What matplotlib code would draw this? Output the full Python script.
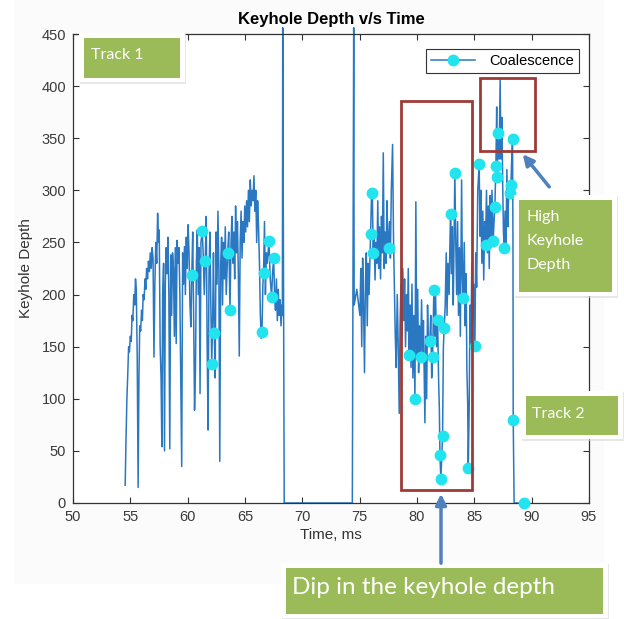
import matplotlib.pyplot as plt
from matplotlib.lines import Line2D
from matplotlib.patches import Rectangle, FancyArrowPatch

# keyhole depth, track 1 (ms, depth)
track1_t = [54.55, 54.62, 54.70, 54.78, 54.85, 54.92, 55.00, 55.08, 55.15, 55.22, 55.30, 55.38,
            55.45, 55.52, 55.60, 55.68, 55.75, 55.82, 55.90, 55.98, 56.05, 56.12, 56.20, 56.28,
            56.35, 56.42, 56.50, 56.58, 56.66, 56.74, 56.82, 56.90, 56.98, 57.06, 57.14, 57.22,
            57.30, 57.38, 57.45, 57.52, 57.60, 57.68, 57.75, 57.82, 57.90, 57.98, 58.05, 58.12,
            58.20, 58.28, 58.36, 58.44, 58.52, 58.60, 58.68, 58.76, 58.84, 58.92, 59.00, 59.08,
            59.16, 59.24, 59.32, 59.40, 59.48, 59.56, 59.64, 59.72, 59.80, 59.88, 59.96, 60.04,
            60.12, 60.20, 60.28, 60.36, 60.44, 60.52, 60.60, 60.68, 60.76, 60.84, 60.92, 61.00,
            61.08, 61.16, 61.27, 61.35, 61.45, 61.53, 61.62, 61.70, 61.78, 61.86, 61.94, 62.02,
            62.10, 62.18, 62.25, 62.32, 62.40, 62.48, 62.56, 62.64, 62.72, 62.80, 62.88, 62.96,
            63.04, 63.12, 63.20, 63.28, 63.36, 63.49, 63.58, 63.69, 63.78, 63.86, 63.94, 64.02,
            64.10, 64.18, 64.26, 64.34, 64.42, 64.50, 64.58, 64.66, 64.74, 64.82, 64.90, 64.98,
            65.06, 65.14, 65.22, 65.30, 65.38, 65.46, 65.54, 65.62, 65.70, 65.78, 65.86, 65.94,
            66.02, 66.10, 66.18, 66.26, 66.34, 66.42, 66.48, 66.56, 66.62, 66.70, 66.78, 66.86,
            66.94, 67.09, 67.20, 67.32, 67.40, 67.50, 67.58, 67.66, 67.74, 67.82, 67.90, 67.98,
            68.06, 68.14, 68.22, 68.26]
track1_d = [17, 60, 100, 125, 150, 145, 160, 155, 180, 175, 200, 190,
            215, 205, 140, 15, 120, 170, 165, 185, 175, 200, 195, 215,
            205, 225, 215, 232, 222, 240, 225, 245, 235, 140, 210, 250,
            230, 278, 250, 262, 150, 120, 54, 200, 230, 50, 210, 245,
            220, 255, 200, 52, 238, 180, 240, 225, 160, 245, 153, 252,
            230, 245, 200, 115, 35, 240, 210, 246, 200, 255, 225, 267,
            240, 190, 169, 219, 260, 180, 89, 128, 230, 262, 200, 245,
            105, 250, 261, 240, 200, 232, 275, 150, 70, 220, 260, 190,
            133, 180, 240, 163, 120, 260, 210, 280, 225, 40, 230, 255,
            190, 250, 215, 265, 200, 240, 260, 185, 250, 275, 230, 260,
            215, 285, 240, 270, 220, 141, 250, 280, 235, 270, 250, 285,
            260, 290, 265, 300, 270, 310, 285, 300, 290, 314, 280, 300,
            250, 290, 265, 230, 180, 158, 164, 210, 221, 270, 200, 240,
            230, 251, 215, 198, 220, 235, 200, 185, 215, 175, 205, 180,
            195, 170, 190, 180]

# jump out of range, zero baseline between tracks, jump back
gap_t = [68.29, 68.42, 74.36, 74.48]
gap_d = [456, 0, 0, 456]

# keyhole depth, track 2
track2_t = [74.52, 74.75, 75.02, 75.10, 75.18, 75.26, 75.34, 75.42, 75.50, 75.58, 75.66, 75.74,
            75.82, 75.95, 76.04, 76.10, 76.18, 76.26, 76.34, 76.42, 76.50, 76.58, 76.66, 76.74,
            76.82, 76.90, 76.98, 77.06, 77.14, 77.22, 77.30, 77.38, 77.45, 77.52, 77.60, 77.68,
            77.76, 77.87, 77.95, 78.03, 78.10, 78.18, 78.28, 78.36, 78.45, 78.52, 78.60, 78.68,
            78.76, 78.84, 78.92, 79.00, 79.08, 79.16, 79.24, 79.32, 79.40, 79.48, 79.56, 79.64,
            79.72, 79.82, 79.90, 79.98, 80.06, 80.14, 80.22, 80.31, 80.40, 80.48, 80.56, 80.64,
            80.69, 80.76, 80.84, 80.92, 81.00, 81.12, 81.20, 81.28, 81.36, 81.47, 81.55, 81.62,
            81.70, 81.80, 81.88, 81.95, 82.00, 82.08, 82.23, 82.30, 82.37, 82.46, 82.55, 82.62,
            82.70, 82.80, 82.88, 82.93, 83.00, 83.08, 83.16, 83.22, 83.30, 83.38, 83.46, 83.54,
            83.62, 83.70, 83.78, 83.89, 83.96, 84.03, 84.12, 84.20, 84.28, 84.35, 84.42, 84.47,
            84.55, 84.62, 84.70, 84.78, 84.86, 84.95, 85.05, 85.12, 85.20, 85.30, 85.42, 85.50,
            85.58, 85.66, 85.74, 85.82, 85.90, 85.98, 86.06, 86.14, 86.22, 86.30, 86.38, 86.46,
            86.54, 86.64, 86.72, 86.79, 86.88, 86.95, 86.99, 87.08, 87.16, 87.25, 87.32, 87.40,
            87.48, 87.54, 87.60, 87.68, 87.76, 87.84, 87.92, 88.00, 88.10, 88.19, 88.26, 88.33,
            88.37, 88.39, 88.47, 89.35]
track2_d = [190, 205, 180, 225, 150, 235, 190, 125, 210, 240, 170, 230,
            200, 258, 297, 300, 240, 260, 214, 250, 230, 290, 225, 265,
            215, 275, 240, 336, 225, 260, 230, 290, 250, 245, 270, 235,
            300, 344, 255, 205, 163, 130, 200, 150, 86, 170, 210, 160,
            225, 175, 215, 150, 200, 165, 225, 142, 190, 130, 210, 120,
            180, 100, 289, 140, 205, 125, 170, 140, 195, 135, 175, 110,
            77, 160, 100, 190, 150, 155, 180, 120, 140, 204, 160, 200,
            150, 176, 120, 90, 46, 23, 64, 150, 168, 190, 240, 180,
            230, 200, 255, 277, 220, 265, 190, 240, 317, 250, 200, 270,
            180, 245, 160, 310, 215, 197, 250, 170, 220, 128, 96, 34,
            90, 190, 150, 230, 175, 210, 151, 240, 207, 300, 325, 256,
            300, 230, 280, 214, 270, 248, 300, 240, 285, 225, 295, 250,
            300, 251, 270, 284, 323, 380, 313, 355, 330, 406, 330, 370,
            300, 260, 245, 280, 250, 320, 265, 300, 297, 305, 330, 349,
            250, 80, 0, 0]

# coalescence events
coal_t = [60.36, 61.27, 61.53, 62.10, 62.32, 63.49, 63.69, 66.48, 66.62, 67.09, 67.32, 67.50,
          75.95, 76.04, 76.18, 77.52, 79.32, 79.82, 80.31, 81.12, 81.36, 81.47, 81.80, 82.00,
          82.08, 82.23, 82.37, 82.93, 83.30, 84.03, 84.47, 85.05, 85.42, 85.98, 86.64, 86.79,
          86.88, 86.99, 87.08, 87.60, 88.10, 88.19, 88.33, 88.39, 89.35]
coal_d = [219, 261, 232, 133, 163, 240, 185, 164, 221, 251, 198, 235,
          258, 297, 240, 245, 142, 100, 140, 155, 140, 204, 176, 46,
          23, 64, 168, 277, 317, 197, 34, 151, 325, 248, 251, 284,
          323, 313, 355, 245, 297, 305, 349, 80, 0]

x_ticks = [50, 55, 60, 65, 70, 75, 80, 85, 90, 95]
y_ticks = [0, 50, 100, 150, 200, 250, 300, 350, 400, 450]

W, H = 624, 619


def fx(px):
    return px / W


def fy(py):
    return 1 - py / H


line_col = '#2a78c2'
dot_col = '#22e4ee'
green = '#9bbb59'
dark_red = '#9e3b36'
arrow_col = '#4f81bd'

fig = plt.figure(figsize=(6.24, 6.19), dpi=100, facecolor='white')
fig.patches.append(Rectangle((fx(14), fy(584)), fx(590), 584 / H, transform=fig.transFigure,
                             facecolor='#fbfbfb', edgecolor='none', zorder=-5))
ax = fig.add_axes([fx(73), fy(503), (589 - 73) / W, (503 - 34) / H])

all_t = track1_t + gap_t + track2_t
all_d = track1_d + gap_d + track2_d
ax.plot(all_t, all_d, color=line_col, lw=1.1, clip_on=False, zorder=2)
ax.plot(coal_t, coal_d, 'o', color=dot_col, ms=7.5, mec=dot_col, zorder=3, clip_on=False)

ax.set_xlim(50, 95)
ax.set_ylim(0, 450)
ax.set_xticks(x_ticks)
ax.set_yticks(y_ticks)
ax.tick_params(direction='in', length=4, width=0.8, top=True, right=True,
               labelsize=10.5, labelcolor='#3a3a3a', color='#333333', pad=5)
for s in ax.spines.values():
    s.set_color('#333333')
    s.set_linewidth(0.9)
for lab in ax.get_xticklabels() + ax.get_yticklabels():
    lab.set_family('Liberation Sans')

ax.set_xlabel('Time, ms', fontsize=11, family='Liberation Sans', color='#333333', labelpad=3)
ax.set_ylabel('Keyhole Depth', fontsize=11, family='Liberation Sans', color='#333333', labelpad=6)
ax.set_title('Keyhole Depth v/s Time', fontsize=12, fontweight='bold',
             family='Liberation Sans', pad=7)

handle = Line2D([], [], color=line_col, lw=1.1, marker='o', ms=7.5, mfc=dot_col, mec=dot_col)
leg = ax.legend([handle], ['Coalescence'], loc='upper right',
                bbox_to_anchor=(fx(579), fy(49)), bbox_transform=fig.transFigure,
                borderaxespad=0, fancybox=False, framealpha=1, edgecolor='#333333',
                prop={'family': 'Liberation Sans', 'size': 10.5}, handlelength=3.0,
                handletextpad=1.0, borderpad=0.35)
leg.get_frame().set_linewidth(0.8)

# red highlight boxes
for (x0, y0, x1, y1) in [(401, 101, 472, 490), (480, 78, 535, 151)]:
    fig.patches.append(Rectangle((fx(x0), fy(y1)), fx(x1 - x0), (y1 - y0) / H,
                                 transform=fig.transFigure, facecolor='none',
                                 edgecolor=dark_red, lw=2, zorder=5))


def green_box(x0, y0, x1, y1):
    fig.patches.append(Rectangle((fx(x0 - 4), fy(y1 + 6)), fx(x1 - x0 + 10), (y1 - y0 + 10) / H,
                                 transform=fig.transFigure, facecolor='#d8d8d8',
                                 edgecolor='none', alpha=0.6, zorder=5))
    fig.patches.append(Rectangle((fx(x0 - 5), fy(y1 + 4)), fx(x1 - x0 + 10), (y1 - y0 + 9) / H,
                                 transform=fig.transFigure, facecolor='white',
                                 edgecolor='none', zorder=5))
    fig.patches.append(Rectangle((fx(x0), fy(y1)), fx(x1 - x0), (y1 - y0) / H,
                                 transform=fig.transFigure, facecolor=green,
                                 edgecolor='none', zorder=6))


green_box(84, 38, 180, 78)
fig.text(fx(91), fy(55), 'Track 1', color='white', fontsize=11.5, family='Lato',
         va='center', ha='left', zorder=7)

green_box(519, 200, 612, 292)
fig.text(fx(526), fy(217), 'High', color='white', fontsize=11.5, family='Lato',
         va='center', ha='left', zorder=7)
fig.text(fx(526), fy(241), 'Keyhole', color='white', fontsize=11.5, family='Lato',
         va='center', ha='left', zorder=7)
fig.text(fx(526), fy(265), 'Depth', color='white', fontsize=11.5, family='Lato',
         va='center', ha='left', zorder=7)

green_box(526, 396, 618, 435)
fig.text(fx(532), fy(414), 'Track 2', color='white', fontsize=11.5, family='Lato',
         va='center', ha='left', zorder=7)

green_box(286, 568, 603, 614)
fig.text(fx(292), fy(588), 'Dip in the keyhole depth', color='white', fontsize=17.5,
         family='Lato', va='center', ha='left', zorder=7)

# arrows
fig.add_artist(FancyArrowPatch((fx(441), fy(566)), (fx(441), fy(491)),
                               transform=fig.transFigure, arrowstyle='-|>',
                               mutation_scale=16, lw=2.5, color=arrow_col, zorder=6))
fig.add_artist(FancyArrowPatch((fx(551), fy(189)), (fx(521), fy(152)),
                               transform=fig.transFigure, arrowstyle='-|>',
                               mutation_scale=16, lw=2.5, color=arrow_col, zorder=6))

fig.savefig('out.png', dpi=100)
